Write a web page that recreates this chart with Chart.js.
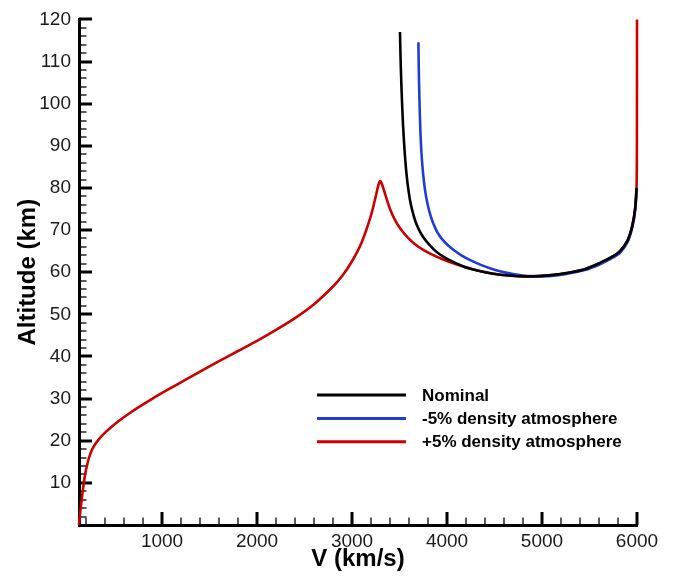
<!DOCTYPE html>
<html>
<head>
<meta charset="utf-8">
<script src="https://cdn.jsdelivr.net/npm/chart.js@4.4.1/dist/chart.umd.min.js"></script>
<style>
  html, body { margin: 0; padding: 0; background: #fff; }
  #wrap { width: 674px; height: 577px; }
</style>
</head>
<body>
<div id="wrap"><canvas id="altChart" width="674" height="577"></canvas></div>
<script>
// Trajectory curves: [V (km/s), altitude (km)]
const nominal = [
  [3505, 117], [3512, 110], [3522, 103], [3537, 95], [3556, 88], [3575, 83],
  [3597, 79], [3620, 76], [3648, 73.5], [3680, 71.3], [3718, 69.5], [3760, 68],
  [3815, 66.5], [3880, 65], [3960, 63.7], [4060, 62.5], [4180, 61.3], [4320, 60.4],
  [4470, 59.7], [4650, 59.2], [4850, 59.0], [5100, 59.3], [5260, 59.8], [5450, 60.7],
  [5611, 62.2], [5750, 63.8], [5821, 65], [5900, 67.5], [5950, 71], [5980, 75], [5995, 80]
];
const lowDensity = [
  [3699, 114.6], [3703, 108], [3710, 101], [3719, 94], [3732, 88], [3750, 83],
  [3772, 79], [3797, 76], [3826, 73.5], [3860, 71.3], [3900, 69.4], [3950, 67.8],
  [4010, 66.4], [4080, 65.1], [4160, 63.9], [4250, 62.8], [4350, 61.8], [4460, 60.9],
  [4580, 60.1], [4710, 59.5], [4850, 59.1], [4950, 59.0], [5100, 59.1], [5260, 59.6],
  [5450, 60.5], [5611, 61.9], [5750, 63.5], [5821, 64.6], [5900, 67.1], [5950, 70.6],
  [5982, 75], [5997, 80]
];
const highDensity = [
  [126, 0], [135, 2.2], [147, 4.6], [165, 8.0], [189, 11.8], [215, 14.6], [242, 16.7],
  [280, 18.6], [330, 20.2], [382, 21.5], [470, 23.3], [558, 24.9], [650, 26.4],
  [750, 27.9], [900, 30.0], [1084, 32.4], [1250, 34.5], [1400, 36.4], [1600, 38.9],
  [1800, 41.3], [2000, 43.7], [2200, 46.3], [2400, 49.1], [2600, 52.4], [2800, 56.6],
  [2900, 59.2], [3000, 62.6], [3100, 67.0], [3200, 73.5], [3250, 78.0], [3280, 80.9],
  [3295, 81.6], [3310, 81.2], [3330, 79.9], [3360, 77.7], [3400, 75.0], [3450, 72.5],
  [3510, 70.3], [3580, 68.4], [3660, 66.7], [3750, 65.3], [3850, 64.1], [3960, 63.0],
  [4080, 62.0], [4220, 61.0], [4380, 60.1], [4560, 59.4], [4750, 59.05], [4909, 59.0],
  [5100, 59.3], [5260, 59.8], [5450, 60.7], [5611, 62.2], [5750, 63.8], [5821, 65],
  [5900, 67.5], [5950, 71], [5980, 75], [5995, 80], [5999, 90], [6000, 120]
];

const seriesNames = ['Nominal', '-5% density atmosphere', '+5% density atmosphere'];
const seriesColors = ['#000000', '#1f3cd8', '#cc0000'];

const xLabels = [1000, 2000, 3000, 4000, 5000, 6000];
const yLabels = [10, 20, 30, 40, 50, 60, 70, 80, 90, 100, 110, 120];
const X_MIN = 126, X_MAX = 6000, X_MINOR = 200;
const Y_MIN = 0, Y_MAX = 120, Y_MINOR = 2;

const toPoints = arr => arr.map(([x, y]) => ({ x, y }));

// inward-pointing major/minor tick marks, drawn under the curves
const inwardTicks = {
  id: 'inwardTicks',
  beforeDatasetsDraw(chart) {
    const { ctx, chartArea: a, scales: { x, y } } = chart;
    ctx.save();
    ctx.strokeStyle = '#000';
    for (let v = X_MINOR; v <= X_MAX; v += X_MINOR) {
      const px = Math.round(x.getPixelForValue(v));
      const major = xLabels.includes(v);
      ctx.lineWidth = major ? 3 : 1.3;
      ctx.beginPath();
      ctx.moveTo(px, a.bottom);
      ctx.lineTo(px, a.bottom - (major ? 13 : 7.5));
      ctx.stroke();
    }
    for (let v = Y_MIN + Y_MINOR; v <= Y_MAX; v += Y_MINOR) {
      const py = Math.round(y.getPixelForValue(v));
      const major = yLabels.includes(v);
      ctx.lineWidth = major ? 3 : 1.3;
      ctx.beginPath();
      ctx.moveTo(a.left, py);
      ctx.lineTo(a.left + (major ? 13 : 7.5), py);
      ctx.stroke();
    }
    ctx.restore();
  }
};

const lineLegend = {
  id: 'lineLegend',
  afterDraw(chart) {
    const ctx = chart.ctx;
    ctx.save();
    ctx.font = 'bold 17px "Liberation Sans", Arial, sans-serif';
    ctx.textBaseline = 'middle';
    chart.data.datasets.forEach((ds, i) => {
      const yy = 395 + i * 23.4;
      ctx.strokeStyle = ds.borderColor;
      ctx.lineWidth = 3;
      ctx.beginPath();
      ctx.moveTo(317, yy);
      ctx.lineTo(406, yy);
      ctx.stroke();
      ctx.fillStyle = '#000';
      ctx.fillText(ds.label, 422, yy + 1);
    });
    ctx.restore();
  }
};

const datasets = [nominal, lowDensity, highDensity].map((d, i) => ({
  label: seriesNames[i],
  data: toPoints(d),
  borderColor: seriesColors[i],
  backgroundColor: seriesColors[i],
  borderWidth: 2.6,
  pointRadius: 0,
  tension: 0.3,
  clip: 4
}));

const tickFont = { family: '"Liberation Sans", Arial, sans-serif', size: 19 };
const titleFont = { family: '"Liberation Sans", Arial, sans-serif', size: 24, weight: 'bold' };

new Chart(document.getElementById('altChart'), {
  type: 'line',
  data: { datasets },
  options: {
    responsive: false,
    animation: false,
    layout: { padding: { top: 14, right: 37, left: 0, bottom: 0 } },
    plugins: { legend: { display: false }, tooltip: { enabled: false } },
    scales: {
      x: {
        type: 'linear',
        min: X_MIN,
        max: X_MAX,
        afterBuildTicks: s => { s.ticks = xLabels.map(v => ({ value: v })); },
        afterFit: s => { s.height = 52; },
        grid: { display: false, drawTicks: false, tickLength: 0 },
        border: { display: true, color: '#000', width: 3 },
        ticks: {
          color: '#1a1a1a',
          padding: 5,
          maxRotation: 0,
          font: tickFont,
          callback: v => String(v)
        },
        title: {
          display: true,
          text: 'V (km/s)',
          color: '#000',
          padding: { top: 0, bottom: 3 },
          font: titleFont
        }
      },
      y: {
        type: 'linear',
        min: Y_MIN,
        max: Y_MAX,
        afterBuildTicks: s => { s.ticks = yLabels.map(v => ({ value: v })); },
        afterFit: s => { s.width = 79; },
        grid: { display: false, drawTicks: false, tickLength: 0 },
        border: { display: true, color: '#000', width: 3 },
        ticks: {
          color: '#1a1a1a',
          padding: 8,
          font: tickFont,
          callback: v => String(v)
        },
        title: {
          display: true,
          text: 'Altitude (km)',
          color: '#000',
          padding: { top: 14, bottom: 0 },
          font: titleFont
        }
      }
    }
  },
  plugins: [inwardTicks, lineLegend]
});
</script>
</body>
</html>
